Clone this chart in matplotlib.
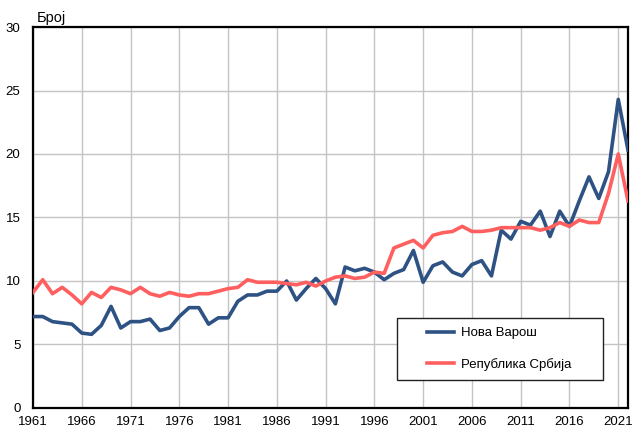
import matplotlib.pyplot as plt
from matplotlib.patches import Rectangle
import numpy as np

plt.rcParams['font.family'] = ['Liberation Sans', 'DejaVu Sans']

years = np.arange(1961, 2023)

nova_varos = [7.2, 7.2, 6.8, 6.7, 6.6, 5.9, 5.8, 6.5, 8.0, 6.3,
              6.8, 6.8, 7.0, 6.1, 6.3, 7.2, 7.9, 7.9, 6.6, 7.1,
              7.1, 8.4, 8.9, 8.9, 9.2, 9.2, 10.0, 8.5, 9.4, 10.2,
              9.4, 8.2, 11.1, 10.8, 11.0, 10.7, 10.1, 10.6, 10.9, 12.4,
              9.9, 11.2, 11.5, 10.7, 10.4, 11.3, 11.6, 10.4, 14.0, 13.3,
              14.7, 14.4, 15.5, 13.5, 15.5, 14.3, 16.3, 18.2, 16.5, 18.6,
              24.3, 20.3]

srbija = [9.1, 10.1, 9.0, 9.5, 8.9, 8.2, 9.1, 8.7, 9.5, 9.3,
          9.0, 9.5, 9.0, 8.8, 9.1, 8.9, 8.8, 9.0, 9.0, 9.2,
          9.4, 9.5, 10.1, 9.9, 9.9, 9.9, 9.8, 9.7, 9.9, 9.6,
          10.0, 10.3, 10.4, 10.2, 10.3, 10.7, 10.6, 12.6, 12.9, 13.2,
          12.6, 13.6, 13.8, 13.9, 14.3, 13.9, 13.9, 14.0, 14.2, 14.2,
          14.2, 14.2, 14.0, 14.2, 14.6, 14.3, 14.8, 14.6, 14.6, 16.9,
          20.0, 16.3]

xticks = np.arange(1961, 2022, 5)
yticks = np.arange(0, 31, 5)

fig = plt.figure(figsize=(6.32, 4.30), dpi=100)
ax = fig.add_axes([0.0522, 0.0512, 0.9415, 0.886])

ax.plot(years, nova_varos, color='#2E5283', lw=2.6, label='Нова Варош', zorder=3)
ax.plot(years, srbija, color='#FF5F5F', lw=2.6, label='Република Србија', zorder=3)

ax.set_xlim(1961, 2022)
ax.set_ylim(0, 30)
ax.set_xticks(xticks)
ax.set_yticks(yticks)
ax.tick_params(length=0, labelsize=9.5)
ax.tick_params(axis='y', pad=9)
ax.tick_params(axis='x', pad=6)
ax.grid(color='#c4c4c4', lw=1)
ax.set_axisbelow(True)
for s in ax.spines.values():
    s.set_linewidth(1.6)
    s.set_color('black')

fig.text(0.058, 0.958, 'Број', fontsize=10.5, ha='left', va='center')

# legend box drawn separately so the padding matches
ax.add_patch(Rectangle((0.612, 0.073), 0.346, 0.163, transform=ax.transAxes,
                       facecolor='white', edgecolor='#222222', lw=1, zorder=4))
ax.legend(loc='center left', bbox_to_anchor=(0.662, 0.155), frameon=False,
          fontsize=9.5, handlelength=2.05, handletextpad=0.5,
          labelspacing=1.4, borderpad=0, borderaxespad=0).set_zorder(5)

fig.savefig('out.png', dpi=100)
